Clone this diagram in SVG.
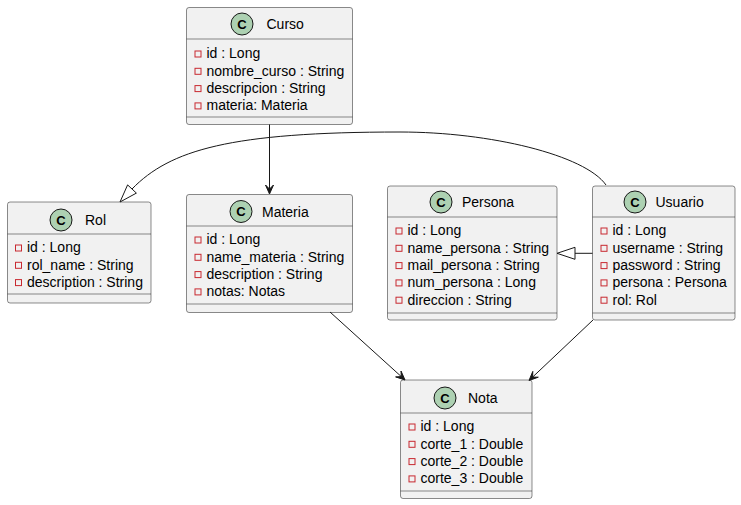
<svg xmlns="http://www.w3.org/2000/svg" width="741" height="505" viewBox="0 0 741 505">
<style>
.box{fill:#F1F1F1;stroke:#181818;stroke-width:0.5}
.sep{stroke:#181818;stroke-width:0.5}
.ci{fill:#ADD1B2;stroke:#181818;stroke-width:1}
.cl{font-family:"Liberation Sans",Arial,sans-serif;font-size:13px;font-weight:bold;fill:#000;text-anchor:middle}
.nm{font-family:"Liberation Sans",Arial,sans-serif;font-size:14px;fill:#000}
.at{font-family:"Liberation Sans",Arial,sans-serif;font-size:14px;fill:#000}
.ic{fill:none;stroke:#C82930;stroke-width:1}
.ln{fill:none;stroke:#181818;stroke-width:1}
.ah{fill:#181818;stroke:#181818;stroke-width:1}
.tri{fill:none;stroke:#181818;stroke-width:1}
</style>
<rect width="741" height="505" fill="#FFFFFF"/>

<g id="Curso">
<rect class="box" x="186.5" y="7.5" width="166" height="117" rx="2.5"/>
<circle class="ci" cx="242" cy="24" r="11"/><text class="cl" x="242" y="28.5">C</text>
<text class="nm" x="266.5" y="29">Curso</text>
<line class="sep" x1="186.5" y1="39" x2="352.5" y2="39"/>
<rect class="ic" x="195" y="51" width="6" height="6"/><text class="at" x="206.5" y="58.3">id : Long</text>
<rect class="ic" x="195" y="68.3" width="6" height="6"/><text class="at" x="206.5" y="75.6">nombre_curso : String</text>
<rect class="ic" x="195" y="85.6" width="6" height="6"/><text class="at" x="206.5" y="92.9">descripcion : String</text>
<rect class="ic" x="195" y="102.9" width="6" height="6"/><text class="at" x="206.5" y="110.2">materia: Materia</text>
<line class="sep" x1="186.5" y1="117" x2="352.5" y2="117"/>
</g>

<g id="Rol">
<rect class="box" x="7.5" y="202" width="143.5" height="101" rx="2.5"/>
<circle class="ci" cx="61" cy="220" r="11"/><text class="cl" x="61" y="224.5">C</text>
<text class="nm" x="85" y="225">Rol</text>
<line class="sep" x1="7.5" y1="234" x2="151" y2="234"/>
<rect class="ic" x="15.5" y="245" width="6" height="6"/><text class="at" x="27" y="252.3">id : Long</text>
<rect class="ic" x="15.5" y="262.3" width="6" height="6"/><text class="at" x="27" y="269.6">rol_name : String</text>
<rect class="ic" x="15.5" y="279.6" width="6" height="6"/><text class="at" x="27" y="286.9">description : String</text>
<line class="sep" x1="7.5" y1="294" x2="151" y2="294"/>
</g>

<g id="Materia">
<rect class="box" x="186.5" y="194.5" width="166" height="118" rx="2.5"/>
<circle class="ci" cx="241" cy="211.5" r="11"/><text class="cl" x="241" y="216">C</text>
<text class="nm" x="262" y="216.5">Materia</text>
<line class="sep" x1="186.5" y1="226" x2="352.5" y2="226"/>
<rect class="ic" x="195" y="237" width="6" height="6"/><text class="at" x="206.5" y="244.3">id : Long</text>
<rect class="ic" x="195" y="254.3" width="6" height="6"/><text class="at" x="206.5" y="261.6">name_materia : String</text>
<rect class="ic" x="195" y="271.6" width="6" height="6"/><text class="at" x="206.5" y="278.9">description : String</text>
<rect class="ic" x="195" y="288.9" width="6" height="6"/><text class="at" x="206.5" y="296.2">notas: Notas</text>
<line class="sep" x1="186.5" y1="304" x2="352.5" y2="304"/>
</g>

<g id="Persona">
<rect class="box" x="387.5" y="186" width="169.5" height="134" rx="2.5"/>
<circle class="ci" cx="441" cy="202" r="11"/><text class="cl" x="441" y="206.5">C</text>
<text class="nm" x="462" y="207">Persona</text>
<line class="sep" x1="387.5" y1="217" x2="557" y2="217"/>
<rect class="ic" x="396" y="228" width="6" height="6"/><text class="at" x="407.5" y="235.3">id : Long</text>
<rect class="ic" x="396" y="245.3" width="6" height="6"/><text class="at" x="407.5" y="252.6">name_persona : String</text>
<rect class="ic" x="396" y="262.6" width="6" height="6"/><text class="at" x="407.5" y="269.9">mail_persona : String</text>
<rect class="ic" x="396" y="279.9" width="6" height="6"/><text class="at" x="407.5" y="287.2">num_persona : Long</text>
<rect class="ic" x="396" y="297.2" width="6" height="6"/><text class="at" x="407.5" y="304.5">direccion : String</text>
<line class="sep" x1="387.5" y1="313" x2="557" y2="313"/>
</g>

<g id="Usuario">
<rect class="box" x="592.5" y="186" width="142.5" height="134" rx="2.5"/>
<circle class="ci" cx="635" cy="202" r="11"/><text class="cl" x="635" y="206.5">C</text>
<text class="nm" x="655.5" y="207">Usuario</text>
<line class="sep" x1="592.5" y1="217" x2="735" y2="217"/>
<rect class="ic" x="601" y="228" width="6" height="6"/><text class="at" x="612.5" y="235.3">id : Long</text>
<rect class="ic" x="601" y="245.3" width="6" height="6"/><text class="at" x="612.5" y="252.6">username : String</text>
<rect class="ic" x="601" y="262.6" width="6" height="6"/><text class="at" x="612.5" y="269.9">password : String</text>
<rect class="ic" x="601" y="279.9" width="6" height="6"/><text class="at" x="612.5" y="287.2">persona : Persona</text>
<rect class="ic" x="601" y="297.2" width="6" height="6"/><text class="at" x="612.5" y="304.5">rol: Rol</text>
<line class="sep" x1="592.5" y1="313" x2="735" y2="313"/>
</g>

<g id="Nota">
<rect class="box" x="400.5" y="380" width="131.5" height="118.5" rx="2.5"/>
<circle class="ci" cx="445" cy="398" r="11"/><text class="cl" x="445" y="402.5">C</text>
<text class="nm" x="468" y="403">Nota</text>
<line class="sep" x1="400.5" y1="413" x2="532" y2="413"/>
<rect class="ic" x="409" y="424" width="6" height="6"/><text class="at" x="420.5" y="431.3">id : Long</text>
<rect class="ic" x="409" y="441.3" width="6" height="6"/><text class="at" x="420.5" y="448.6">corte_1 : Double</text>
<rect class="ic" x="409" y="458.6" width="6" height="6"/><text class="at" x="420.5" y="465.9">corte_2 : Double</text>
<rect class="ic" x="409" y="475.9" width="6" height="6"/><text class="at" x="420.5" y="483.2">corte_3 : Double</text>
<line class="sep" x1="400.5" y1="491" x2="532" y2="491"/>
</g>

<g id="connectors">
<line class="ln" x1="269.5" y1="124.5" x2="269.5" y2="189"/>
<polygon class="ah" points="269.5,194 265.5,185 269.5,189 273.5,185"/>

<line class="ln" x1="330" y1="312" x2="401.3" y2="376.6"/>
<polygon class="ah" points="405,380 395.6,376.9 401.3,376.6 401,371"/>

<line class="ln" x1="593" y1="320" x2="532.6" y2="377.1"/>
<polygon class="ah" points="529,380.5 532.8,371.4 532.6,377.1 538.3,377.2"/>

<line class="ln" x1="575" y1="253.3" x2="592.5" y2="253.3"/>
<polygon class="tri" points="557,253.3 575,247.3 575,259.3"/>

<path class="ln" d="M606,185 C585,155 490,132 400,132 C230,132 170,150 132,189"/>
<polygon class="tri" points="120,202 127.6,184.9 136.4,193.1"/>
</g>
</svg>
